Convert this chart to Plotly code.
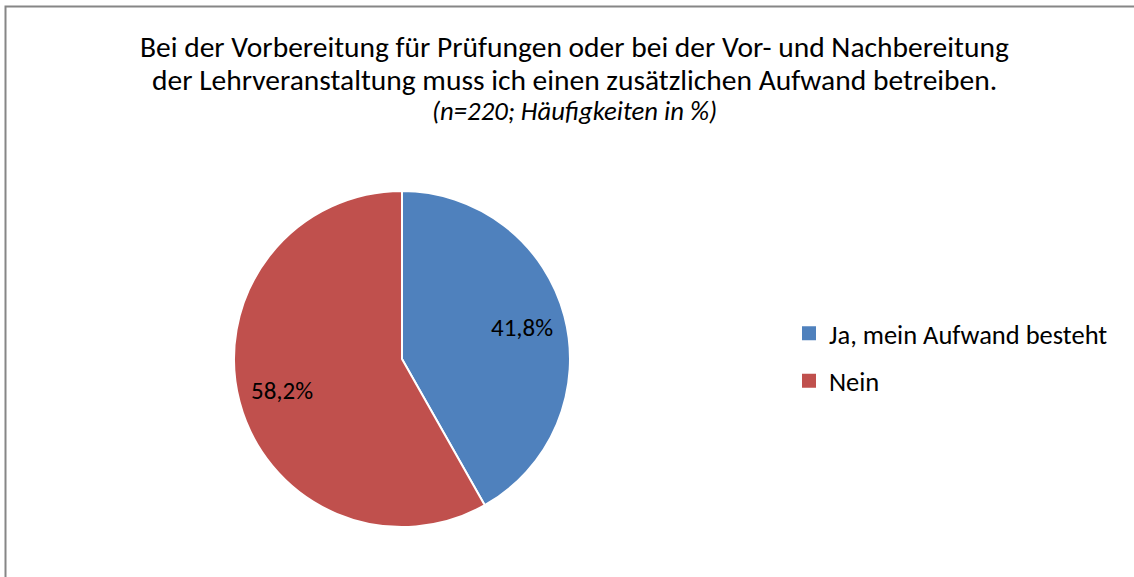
import math
import plotly.graph_objects as go

labels = ["Ja, mein Aufwand besteht", "Nein"]
values = [41.8, 58.2]
colors = ["#4F81BD", "#C0504D"]
title_lines = [
    "Bei der Vorbereitung für Prüfungen oder bei der Vor- und Nachbereitung",
    "der Lehrveranstaltung muss ich einen zusätzlichen Aufwand betreiben.",
    "<i>(n=220; Häufigkeiten in %)</i>",
]

W, H = 1134, 577
FONT = "Carlito, Lato, sans-serif"


def px(x):
    return x / W


def py(y):
    return 1 - y / H


# pie placement (pixels)
PL, PR, PT, PB = 233, 571, 191, 527
CX, CY = (PL + PR) / 2, (PT + PB) / 2
R = min(PR - PL, PB - PT) / 2

fig = go.Figure()
fig.add_trace(go.Pie(
    labels=labels, values=values, sort=False, direction="clockwise", rotation=0,
    marker=dict(colors=colors, line=dict(color="white", width=2)),
    textinfo="none",
    showlegend=False, hoverinfo="label+percent",
    domain=dict(x=[px(PL), px(PR)], y=[py(PB), py(PT)]),
))

# data labels placed at each slice's mid-angle
total = sum(values)
start = 0.0
for v in values:
    frac = v / total
    mid = (start + frac / 2) * 2 * math.pi
    start += frac
    rr = 0.74 * R
    lx = CX + rr * math.sin(mid)
    ly = CY - rr * math.cos(mid)
    txt = f"{frac * 100:.1f}%".replace(".", ",")
    fig.add_annotation(text=txt, x=px(lx), y=py(ly), xref="paper", yref="paper",
                       xanchor="center", yanchor="middle", showarrow=False,
                       font=dict(family=FONT, size=25, color="black"))

for i, (lab, col) in enumerate(zip(labels, colors)):
    fig.add_trace(go.Scatter(
        x=[None], y=[None], mode="markers", name=lab, legendgroup=str(i),
        marker=dict(symbol="square", size=14, color=col),
    ))

ys = [47, 80, 111]
sizes = [29.5, 29.5, 26.7]
for t, yy, s in zip(title_lines, ys, sizes):
    fig.add_annotation(text=t, x=px(574), y=py(yy), xref="paper", yref="paper",
                       xanchor="center", yanchor="middle", showarrow=False,
                       font=dict(family=FONT, size=s, color="black"))

fig.add_shape(type="rect", xref="paper", yref="paper",
              x0=px(5.5), x1=1.05, y0=-0.05, y1=py(6.5),
              line=dict(color="#868686", width=2), fillcolor="rgba(0,0,0,0)")

fig.update_layout(
    width=W, height=H, margin=dict(l=0, r=0, t=0, b=0),
    paper_bgcolor="white", plot_bgcolor="white",
    separators=",.",
    xaxis=dict(visible=False), yaxis=dict(visible=False),
    legend=dict(x=px(789), y=py(357), xanchor="left", yanchor="middle",
                font=dict(family=FONT, size=26.5, color="black"),
                tracegroupgap=10, itemwidth=30, bgcolor="rgba(0,0,0,0)"),
)
fig.write_html("out.html", config={"displayModeBar": False},
               post_script="document.body.style.margin='0';")
